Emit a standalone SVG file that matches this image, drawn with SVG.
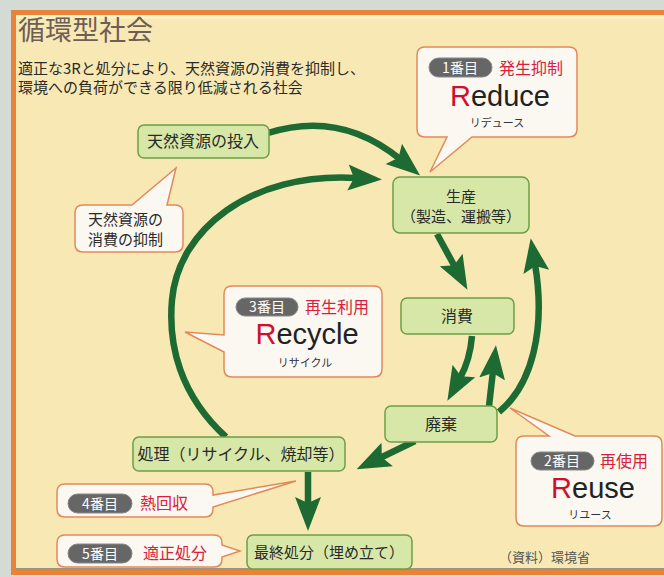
<svg xmlns="http://www.w3.org/2000/svg" width="664" height="577" viewBox="0 0 664 577">
<defs>
<style>
text{font-family:"Noto Sans CJK JP","Noto Sans",sans-serif;}
.node{fill:#d7e7a8;stroke:#6c9f45;stroke-width:1.5;}
.nt{font-size:16px;fill:#2a2a2a;text-anchor:middle;}
.call{fill:#fbf8f2;stroke:#e2895a;stroke-width:1.5;}
.pill{fill:#666;stroke:#888;stroke-width:1;}
.pt{font-size:14px;fill:#fff;text-anchor:middle;}
.red{font-size:16px;fill:#d8203c;}
.big{font-family:"Liberation Sans",Arial,sans-serif;font-size:29px;fill:#222;text-anchor:middle;}
.big tspan.r{fill:#d0102a;}
.kana{font-size:11px;fill:#333;text-anchor:middle;}
.arr{fill:none;stroke:#1d6b32;stroke-width:6.5;marker-end:url(#ah);}
</style>
<marker id="ah" markerUnits="userSpaceOnUse" markerWidth="36" markerHeight="28" refX="8" refY="13" orient="auto" viewBox="0 0 36 26">
<path d="M0,0 L34,13 L0,26 L6,13 z" fill="#1d6b32"/>
</marker>
</defs>
<rect x="0" y="0" width="664" height="577" fill="#d4dbd4"/>
<rect x="13.5" y="12.5" width="700" height="560" fill="#f8e9b4" stroke="#e8833a" stroke-width="5"/>
<line x1="16" y1="17" x2="664" y2="17" stroke="#fdf3c8" stroke-width="3"/>
<line x1="16" y1="569" x2="664" y2="569" stroke="#9a9484" stroke-width="2"/>

<text x="18" y="40" font-size="27" fill="#6e5e55">循環型社会</text>
<text x="18" y="74" font-size="15" fill="#2a2a2a">適正な3Rと処分により、天然資源の消費を抑制し、</text>
<text x="18" y="93" font-size="15" fill="#2a2a2a">環境への負荷ができる限り低減される社会</text>

<g id="connectors">
<path class="arr" d="M268,133 Q340,110 400,159"/>
<path class="arr" d="M226,437 C180,395 168,345 172,300 C178,230 250,172 356,178"/>
<path class="arr" d="M437,234 L455,267"/>
<path class="arr" d="M472,336 Q470,360 460,378"/>
<path class="arr" d="M489,406 L493,371"/>
<path class="arr" d="M499,412 C532,385 546,330 535,264"/>
<path class="arr" d="M415,441 L380,458"/>
<path class="arr" d="M308,472 L308,505"/>
</g>

<g id="node-input"><rect class="node" x="138" y="125" width="131" height="33" rx="6"/><text class="nt" x="203" y="147">天然資源の投入</text></g>
<g id="node-production"><rect class="node" x="393" y="177" width="136" height="56" rx="7"/><text class="nt" x="461" y="202" style="font-size:15px">生産</text><text class="nt" x="461" y="222" style="font-size:15px">（製造、運搬等）</text></g>
<g id="node-consumption"><rect class="node" x="401" y="298" width="113" height="36" rx="6"/><text class="nt" x="457" y="322">消費</text></g>
<g id="node-waste"><rect class="node" x="385" y="406" width="112" height="36" rx="6"/><text class="nt" x="441" y="430">廃棄</text></g>
<g id="node-treatment"><rect class="node" x="133" y="437" width="212" height="34" rx="6"/><text class="nt" x="241" y="460">処理（リサイクル、焼却等）</text></g>
<g id="node-final"><rect class="node" x="247" y="535" width="165" height="34" rx="6"/><text class="nt" x="329" y="558" style="font-size:15px">最終処分（埋め立て）</text></g>

<g id="callout-reduce">
<path class="call" d="M425,47 H569 Q577,47 577,55 V129 Q577,137 569,137 H472 L430,172 L447,137 H425 Q417,137 417,129 V55 Q417,47 425,47 Z"/>
<rect class="pill" x="429" y="58" width="63" height="19" rx="9.5"/><text class="pt" x="460" y="72.5">1番目</text>
<text class="red" x="499" y="74">発生抑制</text>
<text class="big" x="500" y="106">
<tspan class="r">R</tspan>educe</text>
<text class="kana" x="497" y="127">リデュース</text>
</g>

<g id="callout-suppress">
<path class="call" d="M83,205 H132 L176,168 L167,205 H175 Q183,205 183,213 V244 Q183,252 175,252 H83 Q75,252 75,244 V213 Q75,205 83,205 Z"/>
<text x="88" y="225" font-size="15" fill="#2a2a2a">天然資源の</text>
<text x="88" y="245" font-size="15" fill="#2a2a2a">消費の抑制</text>
</g>

<g id="callout-recycle">
<path class="call" d="M232,286 H374 Q382,286 382,294 V369 Q382,377 374,377 H232 Q224,377 224,369 V352 L185,332 L224,335 V294 Q224,286 232,286 Z"/>
<rect class="pill" x="236" y="298" width="62" height="18" rx="9"/><text class="pt" x="267" y="312">3番目</text>
<text class="red" x="305" y="313">再生利用</text>
<text class="big" x="307" y="344"><tspan class="r">R</tspan>ecycle</text>
<text class="kana" x="305" y="367">リサイクル</text>
</g>

<g id="callout-reuse">
<path class="call" d="M524,436 H549 L510,408 L575,436 H654 Q662,436 662,444 V518 Q662,526 654,526 H524 Q516,526 516,518 V444 Q516,436 524,436 Z"/>
<rect class="pill" x="531" y="452" width="63" height="18" rx="9"/><text class="pt" x="562" y="466">2番目</text>
<text class="red" x="600" y="467">再使用</text>
<text class="big" x="593" y="498"><tspan class="r">R</tspan>euse</text>
<text class="kana" x="590" y="519">リユース</text>
</g>

<g id="callout-heat">
<path class="call" d="M65,484 H205 Q213,484 213,492 V495 L296,481 L213,507 V509 Q213,517 205,517 H65 Q57,517 57,509 V492 Q57,484 65,484 Z"/>
<rect class="pill" x="68" y="494" width="64" height="19" rx="9.5"/><text class="pt" x="100" y="508.5">4番目</text>
<text class="red" x="140" y="509">熱回収</text>
</g>

<g id="callout-disposal">
<path class="call" d="M65,535 H214 Q222,535 222,543 V545 L240,551 L222,557 V559 Q222,567 214,567 H65 Q57,567 57,559 V543 Q57,535 65,535 Z"/>
<rect class="pill" x="68" y="544" width="64" height="19" rx="9.5"/><text class="pt" x="100" y="558.5">5番目</text>
<text class="red" x="143" y="559">適正処分</text>
</g>

<text x="499" y="562" font-size="13" fill="#555">（資料）環境省</text>
</svg>
